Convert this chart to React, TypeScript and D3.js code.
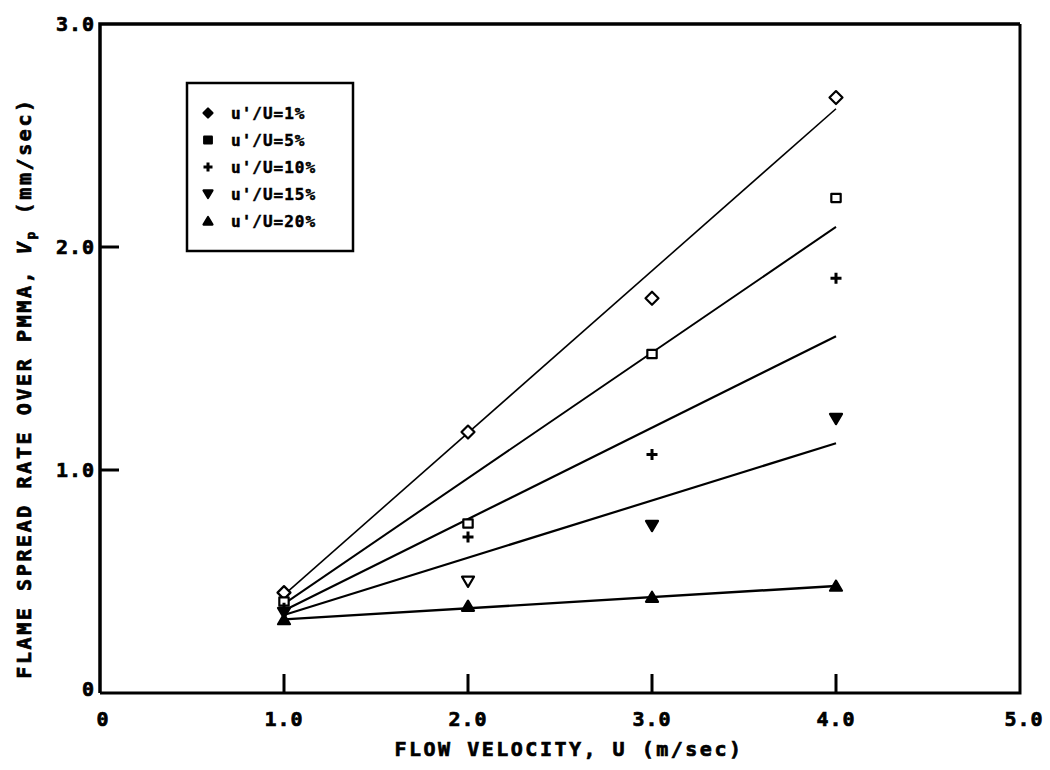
import { useMemo } from "react";
import * as d3 from "d3";

// flow velocity U (m/sec)
const velocities = [1, 2, 3, 4];

// turbulence intensity series
const seriesLabels = ["u'/U=1%", "u'/U=5%", "u'/U=10%", "u'/U=15%", "u'/U=20%"];
const seriesMarkers = ["diamond", "square", "plus", "triDown", "triUp"];

// flame spread rate Vp (mm/sec)
const spread1 = [0.45, 1.17, 1.77, 2.67];
const spread5 = [0.41, 0.76, 1.52, 2.22];
const spread10 = [0.38, 0.7, 1.07, 1.86];
const spread15 = [0.36, 0.5, 0.75, 1.23];
const spread20 = [0.33, 0.39, 0.43, 0.48];

// straight-line fits, value at U=1 and U=4
const fitU = [1, 4];
const fit1 = [0.44, 2.62];
const fit5 = [0.4, 2.09];
const fit10 = [0.37, 1.6];
const fit15 = [0.35, 1.12];
const fit20 = [0.33, 0.48];

const xTicks = [0, 1, 2, 3, 4, 5];
const xTickLabels = ["0", "1.0", "2.0", "3.0", "4.0", "5.0"];
const yTicks = [0, 1, 2, 3];
const yTickLabels = ["0", "1.0", "2.0", "3.0"];

const FONT = "'DejaVu Sans Mono', 'Liberation Mono', monospace";

function markerPath(kind: string, r: number) {
  switch (kind) {
    case "diamond":
      return `M0,${-r}L${r},0L0,${r}L${-r},0Z`;
    case "square":
      return `M${-r * 0.85},${-r * 0.75}H${r * 0.85}V${r * 0.75}H${-r * 0.85}Z`;
    case "plus":
      return `M${-r},0H${r}M0,${-r}V${r}`;
    case "triDown":
      return `M${-r},${-r * 0.8}H${r}L0,${r * 0.9}Z`;
    default:
      return `M${-r},${r * 0.8}H${r}L0,${-r * 0.9}Z`;
  }
}

function Marker({ kind, x, y, r, filled }: { kind: string; x: number; y: number; r: number; filled: boolean }) {
  return (
    <path
      d={markerPath(kind, r)}
      transform={`translate(${x},${y})`}
      fill={kind === "plus" ? "none" : filled ? "#000" : "#fff"}
      stroke="#000"
      strokeWidth={kind === "plus" ? 3 : 2.2}
      strokeLinejoin="round"
    />
  );
}

export default function App() {
  const width = 1050;
  const height = 770;
  const margin = { top: 24, right: 30, bottom: 77, left: 100 };

  const x = useMemo(
    () => d3.scaleLinear().domain([0, 5]).range([margin.left, width - margin.right]),
    []
  );
  const y = useMemo(
    () => d3.scaleLinear().domain([0, 3]).range([height - margin.bottom, margin.top]),
    []
  );

  const spreads = [spread1, spread5, spread10, spread15, spread20];
  const fits = [fit1, fit5, fit10, fit15, fit20];
  const fitWidths = [1.6, 2, 2.2, 2.2, 2.4];

  const line = d3
    .line<number>()
    .x((_, i) => x(fitU[i]))
    .y((d) => y(d));

  const x0 = x(0);
  const x1 = x(5);
  const yb = y(0);
  const yt = y(3);

  const bold = { fontFamily: FONT, fontWeight: "bold", stroke: "#000", strokeWidth: 0.7 } as const;

  return (
    <svg
      width={width}
      height={height}
      style={{ position: "absolute", left: 0, top: 0, background: "#fff" }}
    >
      {/* frame */}
      <path d={`M${x0},${yb}V${yt}H${x1}`} fill="none" stroke="#000" strokeWidth={3.5} />
      <path d={`M${x1},${yt}V${yb}H${x0}`} fill="none" stroke="#000" strokeWidth={3} />

      {/* y ticks */}
      {yTicks.map((t, i) => (
        <g key={`yt${i}`}>
          {t > 0 && t < 3 && (
            <line x1={x0} x2={x0 + 19} y1={y(t)} y2={y(t)} stroke="#000" strokeWidth={3} />
          )}
          <text
            x={x0 - 5}
            y={y(t) + (t === 0 ? 3 : 7)}
            textAnchor="end"
            fontSize={20}
            letterSpacing={1}
            {...bold}
          >
            {yTickLabels[i]}
          </text>
        </g>
      ))}

      {/* x ticks */}
      {xTicks.map((t, i) => (
        <g key={`xt${i}`}>
          {t > 0 && t < 5 && (
            <line x1={x(t)} x2={x(t)} y1={yb} y2={yb - 19} stroke="#000" strokeWidth={3} />
          )}
          <text
            x={x(t) + (t === 0 ? 3 : t === 5 ? 4 : 0)}
            y={yb + 33}
            textAnchor="middle"
            fontSize={20}
            letterSpacing={1}
            {...bold}
          >
            {xTickLabels[i]}
          </text>
        </g>
      ))}

      {/* axis titles */}
      <text
        x={569}
        y={height - 14}
        textAnchor="middle"
        fontSize={20}
        letterSpacing={2.5}
        {...bold}
      >
        FLOW VELOCITY, U (m/sec)
      </text>
      <text
        transform={`translate(31,${388}) rotate(-90)`}
        textAnchor="middle"
        fontSize={20}
        letterSpacing={2.6}
        {...bold}
      >
        FLAME SPREAD RATE OVER PMMA,{"  "}
        <tspan fontStyle="italic">V</tspan>
        <tspan fontSize={13} dy={4}>p</tspan>
        <tspan dy={-4}> (mm/sec)</tspan>
      </text>

      {/* fitted lines */}
      {fits.map((f, i) => (
        <path key={`fit${i}`} d={line(f) ?? ""} fill="none" stroke="#000" strokeWidth={fitWidths[i]} />
      ))}

      {/* data points: diamonds and squares open, triangles solid (U=2 inverted one open) */}
      {spreads.map((s, si) =>
        s.map((v, vi) => (
          <Marker
            key={`p${si}-${vi}`}
            kind={seriesMarkers[si]}
            x={x(velocities[vi])}
            y={y(v)}
            r={si === 0 ? 6.5 : si >= 3 ? 6 : 5.5}
            filled={si === 4 || (si === 3 && vi !== 1)}
          />
        ))
      )}

      {/* legend */}
      <rect x={187} y={83} width={166} height={168} fill="#fff" stroke="#000" strokeWidth={2.5} />
      {seriesLabels.map((lab, i) => (
        <g key={`lg${i}`} transform={`translate(0,${113 + i * 27})`}>
          <Marker kind={seriesMarkers[i]} x={208} y={0} r={4.5} filled={true} />
          <text x={231} y={6} fontSize={16} letterSpacing={1} {...bold} strokeWidth={0.5}>
            {lab}
          </text>
        </g>
      ))}
    </svg>
  );
}
